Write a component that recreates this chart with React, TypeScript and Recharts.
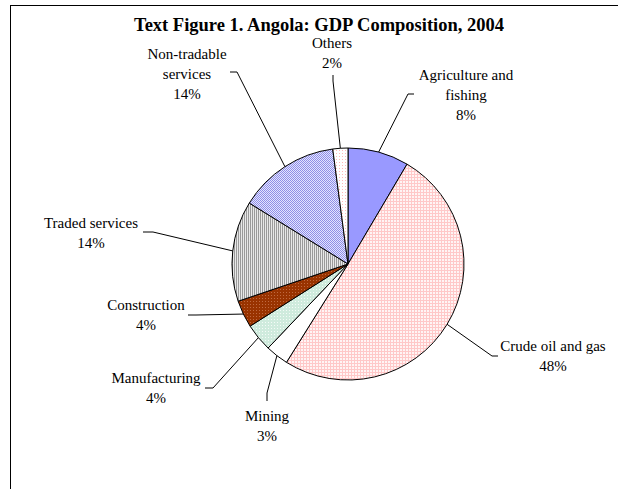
import React from "react";
import { PieChart, Pie, Cell } from "recharts";

// ---- data ----
const categories = [
  "Agriculture and fishing",
  "Crude oil and gas",
  "Mining",
  "Manufacturing",
  "Construction",
  "Traded services",
  "Non-tradable services",
  "Others",
];
const shares = [8.5, 50.4, 3.2, 3.9, 3.8, 14.0, 14.1, 2.1];
const shareLabels = ["8%", "48%", "3%", "4%", "4%", "14%", "14%", "2%"];
const labelNameLines = [
  ["Agriculture and", "fishing"],
  ["Crude oil and gas"],
  ["Mining"],
  ["Manufacturing"],
  ["Construction"],
  ["Traded services"],
  ["Non-tradable", "services"],
  ["Others"],
];
const title = "Text Figure 1. Angola: GDP Composition, 2004";

const data = categories.map((name, i) => ({ name, value: shares[i] }));

// ---- styles ----
const FONT = "'Times New Roman', 'Liberation Serif', serif";
const fills = [
  "#9999FF",
  "url(#pCrude)",
  "#FFFFFF",
  "url(#pManu)",
  "url(#pCons)",
  "url(#pTraded)",
  "url(#pNonTrad)",
  "url(#pOthers)",
];

// label placement relative to the pie centre: text centre (tx,ty), tick from (ax,ay) to elbow (bx,by)
const labelLayout = [
  { tx: 118, ty: -169, ax: 66, ay: -170, bx: 60, by: -170 },
  { tx: 205, ty: 92, ax: 150, ay: 92, bx: 144, by: 92 },
  { tx: -81, ty: 162, ax: -81, ay: 137, bx: -81, by: 129 },
  { tx: -192, ty: 124, ax: -143, ay: 124, bx: -135, by: 124 },
  { tx: -202, ty: 51, ax: -160, ay: 51, bx: -152, by: 51 },
  { tx: -257, ty: -31, ax: -205, ay: -32, bx: -195, by: -32 },
  { tx: -161, ty: -190, ax: -118, ay: -192, bx: -111, by: -192 },
  { tx: -16, ty: -211, ax: -15, ay: -189, bx: -15, by: -183 },
];
const LINE_H = 20;

const RAD = Math.PI / 180;

const renderLabel = (props: any) => {
  const { cx, cy, midAngle, outerRadius, index } = props;
  const lay = labelLayout[index];
  const ex = cx + outerRadius * Math.cos(-midAngle * RAD);
  const ey = cy + outerRadius * Math.sin(-midAngle * RAD);
  const lines = [...labelNameLines[index], shareLabels[index]];
  const n = lines.length;
  return (
    <g key={`lbl-${index}`}>
      <path
        d={`M${cx + lay.ax},${cy + lay.ay} L${cx + lay.bx},${cy + lay.by} L${ex},${ey}`}
        stroke="#000"
        strokeWidth={1}
        fill="none"
      />
      {lines.map((t, i) => (
        <text
          key={i}
          x={cx + lay.tx}
          y={cy + lay.ty + (i - (n - 1) / 2) * LINE_H}
          textAnchor="middle"
          dominantBaseline="central"
          fontFamily={FONT}
          fontSize={15}
          fill="#000"
        >
          {t}
        </text>
      ))}
    </g>
  );
};

export default function App() {
  return (
    <div
      style={{
        position: "absolute",
        left: 0,
        top: 0,
        width: 618,
        height: 489,
        overflow: "hidden",
        background: "#fff",
      }}
    >
      <div
        style={{
          position: "absolute",
          left: 10,
          top: 5,
          width: 700,
          height: 600,
          border: "1px solid #000",
          boxSizing: "border-box",
        }}
      />
      <div style={{ position: "absolute", left: 0, top: 0 }}>
        <PieChart width={618} height={489} margin={{ top: 0, right: 0, bottom: 0, left: 0 }}>
          <defs>
            <pattern id="pCrude" width="3" height="3" patternUnits="userSpaceOnUse">
              <rect width="3" height="3" fill="#FFC8C8" />
              <rect x="1" y="1" width="2" height="2" fill="#FFF4F4" />
            </pattern>
            <pattern id="pOthers" width="3" height="3" patternUnits="userSpaceOnUse">
              <rect width="3" height="3" fill="#FFFFFF" />
              <rect x="0" y="0" width="1" height="1" fill="#FFB8B8" />
            </pattern>
            <pattern id="pNonTrad" width="2" height="2" patternUnits="userSpaceOnUse">
              <rect width="2" height="2" fill="#E4E4FF" />
              <rect x="0" y="0" width="1" height="1" fill="#8F8FE6" />
              <rect x="1" y="1" width="1" height="1" fill="#8F8FE6" />
            </pattern>
            <pattern id="pTraded" width="2" height="2" patternUnits="userSpaceOnUse">
              <rect width="2" height="2" fill="#E8E8E8" />
              <rect x="0" y="0" width="1" height="2" fill="#9A9A9A" />
            </pattern>
            <pattern id="pCons" width="3" height="3" patternUnits="userSpaceOnUse">
              <rect width="3" height="3" fill="#993300" />
              <rect x="1" y="1" width="1" height="1" fill="#BF6A40" />
            </pattern>
            <pattern id="pManu" width="3" height="3" patternUnits="userSpaceOnUse">
              <rect width="3" height="3" fill="#CFEBDD" />
              <rect x="1" y="1" width="1" height="1" fill="#F4FBF7" />
            </pattern>
          </defs>
          <text
            x={319}
            y={31}
            textAnchor="middle"
            fontFamily={FONT}
            fontWeight="bold"
            fontSize={18.5}
            fill="#000"
          >
            {title}
          </text>
          <Pie
            data={data}
            dataKey="value"
            nameKey="name"
            cx={348}
            cy={264}
            outerRadius={116}
            startAngle={90}
            endAngle={-270}
            stroke="#000"
            strokeWidth={1}
            label={renderLabel}
            labelLine={false}
            isAnimationActive={false}
          >
            {data.map((d, i) => (
              <Cell key={d.name} fill={fills[i]} />
            ))}
          </Pie>
        </PieChart>
      </div>
    </div>
  );
}
